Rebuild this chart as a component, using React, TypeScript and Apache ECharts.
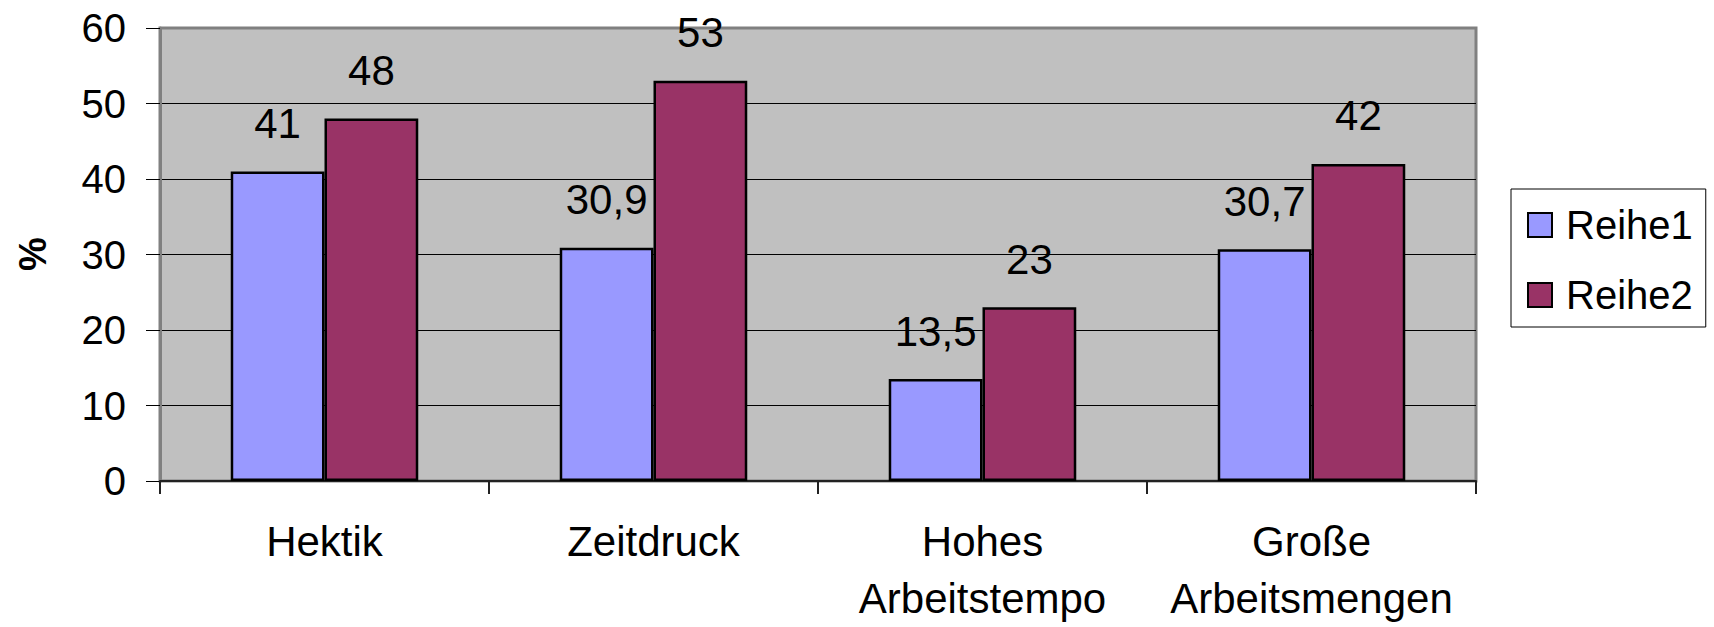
import React, { useEffect, useRef } from 'react';
import * as echarts from 'echarts';

const categories = ['Hektik', 'Zeitdruck', 'Hohes\nArbeitstempo', 'Große\nArbeitsmengen'];
const seriesNames = ['Reihe1', 'Reihe2'];
const reihe1 = [41, 30.9, 13.5, 30.7];
const reihe2 = [48, 53, 23, 42];
const yMin = 0;
const yMax = 60;
const yInterval = 10;
const yAxisTitle = '%';
const colors = ['#9999FF', '#993366'];

const FONT = '"Liberation Sans", Arial, sans-serif';

export default function App() {
  const ref = useRef<HTMLDivElement>(null);
  useEffect(() => {
    if (!ref.current) return;
    const chart = echarts.init(ref.current, null, { renderer: 'svg' });
    const fmt = (p: any) => String(p.value).replace('.', ',');
    const mkSeries = (name: string, data: number[], color: string) => ({
      name,
      type: 'bar',
      data,
      barGap: '0%',
      barCategoryGap: '43%',
      itemStyle: { color, borderColor: '#000', borderWidth: 2.5 },
      label: {
        show: true,
        position: 'top',
        distance: 27,
        formatter: fmt,
        fontSize: 42,
        color: '#000',
        fontFamily: FONT,
      },
    });
    chart.setOption({
      animation: false,
      backgroundColor: '#fff',
      textStyle: { fontFamily: FONT },
      grid: {
        left: 160,
        right: 238,
        top: 28,
        bottom: 141,
        show: true,
        backgroundColor: '#C0C0C0',
        borderColor: '#808080',
        borderWidth: 3,
      },
      legend: {
        orient: 'vertical',
        left: 1511,
        top: 189,
        padding: [16, 13, 12, 16],
        itemWidth: 24,
        itemHeight: 24,
        itemGap: 30,
        icon: 'rect',
        borderColor: '#000',
        borderWidth: 1,
        backgroundColor: '#fff',
        textStyle: { fontSize: 40, color: '#000', fontFamily: FONT, padding: [0, 0, 0, 9] },
        data: seriesNames,
      },
      xAxis: {
        type: 'category',
        data: categories,
        axisLine: { show: true, lineStyle: { color: '#222', width: 2 } },
        axisTick: { show: true, length: 13, lineStyle: { color: '#222', width: 2 } },
        axisLabel: {
          fontSize: 42,
          lineHeight: 57,
          color: '#000',
          margin: 32,
          interval: 0,
          fontFamily: FONT,
        },
        splitLine: { show: false },
      },
      yAxis: {
        type: 'value',
        min: yMin,
        max: yMax,
        interval: yInterval,
        axisLine: { show: true, lineStyle: { color: '#808080', width: 3 } },
        axisTick: { show: true, length: 14, lineStyle: { color: '#000', width: 1 } },
        axisLabel: { fontSize: 40, color: '#000', margin: 34, fontFamily: FONT },
        splitLine: {
          show: true,
          lineStyle: {
            color: ['#000', '#000', '#000', '#000', '#000', '#000', '#808080'],
            width: 1,
          },
        },
      },
      graphic: [
        {
          type: 'text',
          x: 33,
          y: 254,
          rotation: Math.PI / 2,
          style: {
            text: yAxisTitle,
            align: 'center',
            verticalAlign: 'middle',
            font: `bold 38px ${FONT}`,
            fill: '#000',
          },
        },
      ],
      series: [
        mkSeries(seriesNames[0], reihe1, colors[0]),
        mkSeries(seriesNames[1], reihe2, colors[1]),
      ],
    });
    return () => chart.dispose();
  }, []);
  return (
    <div
      ref={ref}
      style={{ position: 'fixed', left: 0, top: 0, width: 1714, height: 627 }}
    />
  );
}
